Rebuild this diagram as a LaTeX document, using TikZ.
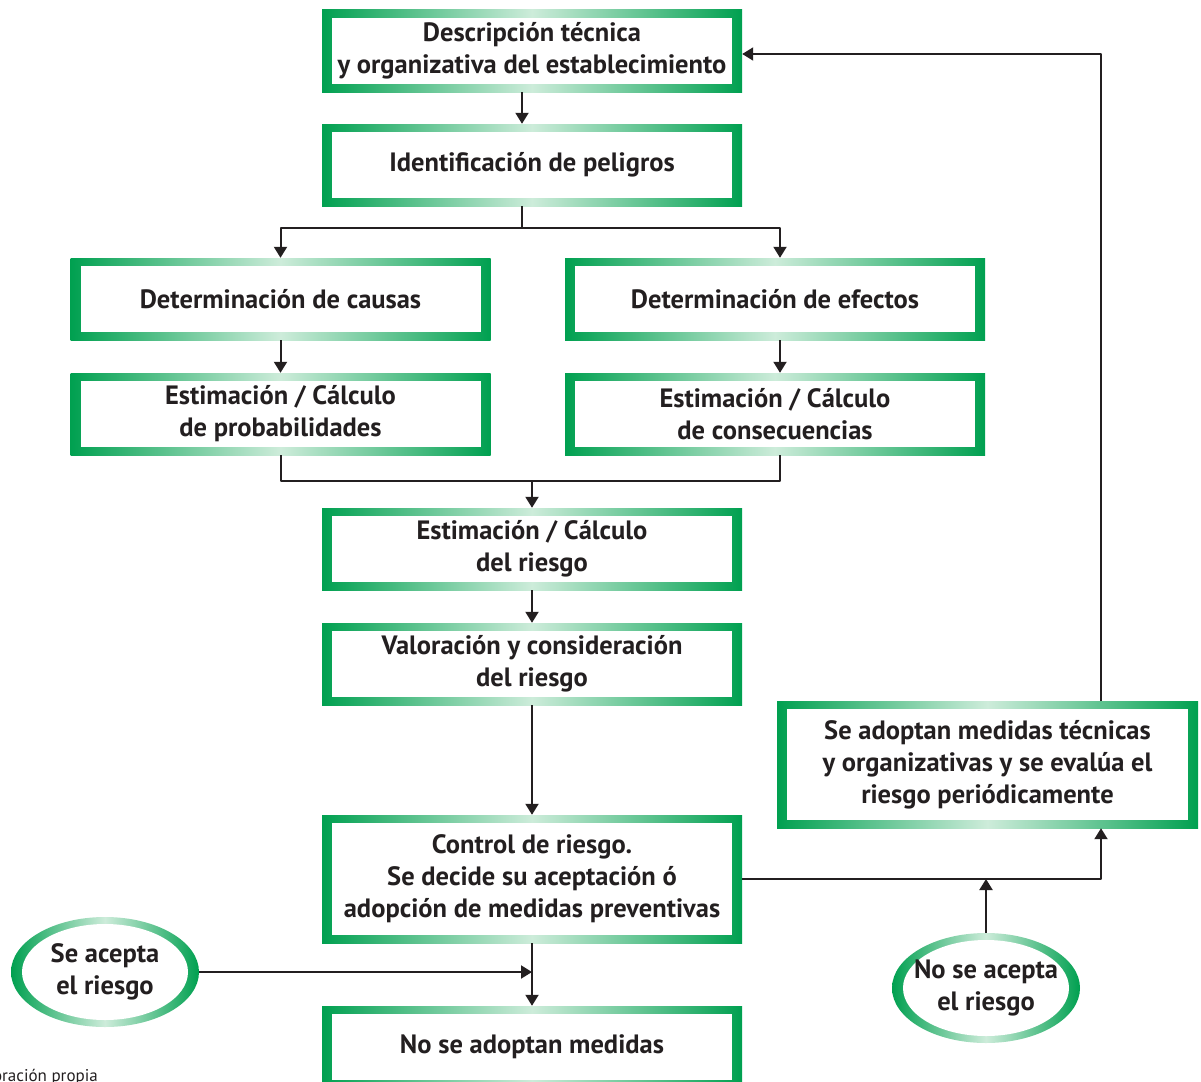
\documentclass[tikz,border=0pt]{standalone}
\usepackage{fontspec}
\setmainfont{PT Sans}
\usetikzlibrary{arrows.meta,shapes.geometric}
\definecolor{verde}{RGB}{0,160,80}
\definecolor{verdeclaro}{RGB}{205,236,218}
\definecolor{tinta}{RGB}{35,31,32}
\begin{document}
\begin{tikzpicture}[x=1pt,y=-1pt,line join=round,>={Triangle[length=11pt,width=13pt]}]
            \tikzset{caja/.style={shape=rectangle,minimum width=420pt,minimum height=82pt,inner sep=0pt,
                    left color=verde,right color=verde,middle color=verdeclaro,
                    path picture={\fill[white] ([xshift=10pt,yshift=8pt]path picture bounding box.south west) rectangle ([xshift=-10pt,yshift=-8pt]path picture bounding box.north east);},
                    align=center,text=tinta,font=\bfseries\fontsize{26.5}{32}\selectfont},
                elipse/.style={caja,shape=ellipse,minimum width=188pt,minimum height=110pt,inner sep=-30pt,
                    path picture={\fill[white] (path picture bounding box.center) ellipse[x radius=83pt,y radius=48pt];}},
                flecha/.style={draw=tinta,line width=2pt}}
            \clip (0,0) rectangle (1201,1081);
            %% cajas
            \node[caja] (b1) at (532,51) {Descripción técnica\\y organizativa del establecimiento};
            \node[caja] (b2) at (532,165) {Identificación de peligros};
            \node[caja] (b3) at (280.5,299) {Determinación de causas};
            \node[caja] (b4) at (280.5,414) {Estimación / Cálculo\\de probabilidades};
            \node[caja] (b5) at (775,299) {Determinación de efectos};
            \node[caja] (b6) at (775,414) {Estimación / Cálculo\\de consecuencias};
            \node[caja] (b7) at (532,549) {Estimación / Cálculo\\del riesgo};
            \node[caja] (b8) at (532,664) {Valoración y consideración\\del riesgo};
            \node[caja,minimum height=128pt] (b9) at (532,879) {Control de riesgo.\\Se decide su aceptación ó\\adopción de medidas preventivas};
            \node[caja] (b10) at (532,1047) {No se adoptan medidas};
            \node[caja,minimum width=421pt,minimum height=127pt] (b11) at (987.5,764.5) {Se adoptan medidas técnicas\\y organizativas y se evalúa el\\riesgo periódicamente};
            \node[elipse] (e1) at (105,972) {Se acepta\\el riesgo};
            \node[elipse] (e2) at (986,988) {No se acepta\\el riesgo};
            \node[anchor=south east,text=tinta,font=\fontsize{17}{17}\selectfont,inner sep=0pt] (fuente) at (98,1085) {Elaboración propia};
            %% conectores
            \coordinate (r1) at (522,228);
            \coordinate (r2) at (532,481);
            \draw[flecha,->] ([xshift=-10pt]b1.south) -- ([xshift=-10pt]b2.north);
            \draw[flecha] ([xshift=-10pt]b2.south) -- (r1);
            \draw[flecha,->] (r1) -| (b3.north);
            \draw[flecha,->] (r1) -| ([xshift=5pt]b5.north);
            \draw[flecha,->] (b3) -- (b4);
            \draw[flecha,->] ([xshift=5pt]b5.south) -- ([xshift=5pt]b6.north);
            \draw[flecha] (b4.south) |- ([xshift=5pt]b6.south |- r2) -- ([xshift=5pt]b6.south);
            \draw[flecha,->] (r2) -- (b7.north);
            \foreach \a/\b in {b7/b8,b8/b9,b9/b10} \draw[flecha,->] (\a) -- (\b);
            \draw[flecha,->] (e1.east) -- (e1.east -| b10.north);
            \draw[flecha,->] (b9.east) -| ([xshift=113.5pt]b11.south);
            \draw[flecha,->] (e2.north) -- (e2.north |- b9.east);
            \draw[flecha,->] ([xshift=113.5pt]b11.north) |- ([yshift=-3pt]b1.east);
        \end{tikzpicture}
\end{document}
